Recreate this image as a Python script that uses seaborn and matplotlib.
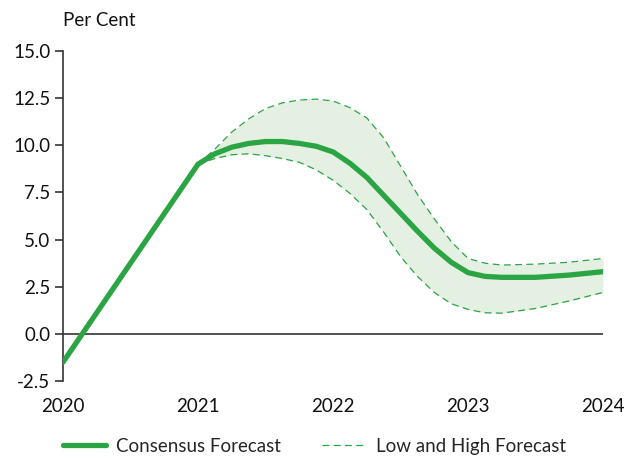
import numpy as np
import pandas as pd
import matplotlib
matplotlib.use("Agg")
import matplotlib.pyplot as plt
import seaborn as sns

# Consensus forecast path
years = [2020, 2020.5, 2021, 2021.125, 2021.25, 2021.375, 2021.5, 2021.625, 2021.75, 2021.875,
         2022, 2022.125, 2022.25, 2022.375, 2022.5, 2022.625, 2022.75, 2022.875,
         2023, 2023.125, 2023.25, 2023.5, 2023.75, 2024]
consensus = [-1.5, 3.75, 9.0, 9.55, 9.9, 10.1, 10.2, 10.2, 10.1, 9.95,
             9.65, 9.05, 8.3, 7.35, 6.4, 5.45, 4.55, 3.8,
             3.25, 3.05, 3.0, 3.0, 3.12, 3.3]

# Low / high range (starts in 2021)
band_years = years[2:]
high = [9.0, 9.8, 10.7, 11.4, 11.95, 12.25, 12.4, 12.45,
        12.35, 12.0, 11.45, 10.4, 8.9, 7.4, 6.1, 4.9,
        4.0, 3.75, 3.65, 3.7, 3.8, 4.0]
low = [9.0, 9.3, 9.5, 9.55, 9.45, 9.3, 9.1, 8.7,
       8.15, 7.45, 6.6, 5.4, 4.1, 3.05, 2.2, 1.6,
       1.3, 1.12, 1.1, 1.35, 1.75, 2.2]

xticks = [2020, 2021, 2022, 2023, 2024]
yticks = [-2.5, 0.0, 2.5, 5.0, 7.5, 10.0, 12.5, 15.0]

green = "#2ba444"
fill = "#e4f0e2"
grey = "#333333"

sns.set_style("white")
plt.rcParams["font.family"] = ["Lato", "DejaVu Sans"]

df_c = pd.DataFrame({"year": years, "value": consensus})
df_b = pd.DataFrame({"year": band_years, "low": low, "high": high})

fig = plt.figure(figsize=(6.28, 4.58), dpi=100)
ax = fig.add_axes([0.1003, 0.168, 0.86, 0.7206])

ax.fill_between(df_b["year"], df_b["low"], df_b["high"], color=fill, lw=0, zorder=1)
ax.axhline(0, color=grey, lw=1.2, zorder=2)
sns.lineplot(data=df_b, x="year", y="high", ax=ax, color=green, lw=0.9,
             linestyle=(0, (5.5, 3.5)), zorder=3, label="Low and High Forecast")
sns.lineplot(data=df_b, x="year", y="low", ax=ax, color=green, lw=0.9,
             linestyle=(0, (5.5, 3.5)), zorder=3)
sns.lineplot(data=df_c, x="year", y="value", ax=ax, color=green, lw=3.8,
             solid_capstyle="round", solid_joinstyle="round", zorder=4,
             label="Consensus Forecast")

ax.set_xlim(2020, 2024)
ax.set_ylim(-2.5, 15)
ax.set_xticks(xticks)
ax.set_xticklabels([str(x) for x in xticks])
ax.set_yticks(yticks)
ax.set_yticklabels([f"{y:.1f}" for y in yticks])
ax.set_xlabel("")
ax.set_ylabel("")

for s in ["top", "right", "bottom"]:
    ax.spines[s].set_visible(False)
ax.spines["left"].set_color(grey)
ax.spines["left"].set_linewidth(1.2)
ax.tick_params(axis="y", direction="out", length=6, width=1.2, color=grey,
               labelsize=13.5, pad=3, left=True, labelcolor="#111111")
ax.tick_params(axis="x", length=0, labelsize=13.5, pad=12, labelcolor="#111111")

fig.text(0.1003, 0.955, "Per Cent", ha="left", va="center", fontsize=13.5, color="#111111")

handles, labels = ax.get_legend_handles_labels()
order = [labels.index("Consensus Forecast"), labels.index("Low and High Forecast")]
leg = ax.legend([handles[i] for i in order], [labels[i] for i in order],
                loc="center", bbox_to_anchor=(0.5, 0.025), bbox_transform=fig.transFigure,
                ncol=2, frameon=False, fontsize=13.5, handlelength=2.3, columnspacing=2.2,
                handletextpad=0.55)

fig.savefig("out.png", dpi=100)
